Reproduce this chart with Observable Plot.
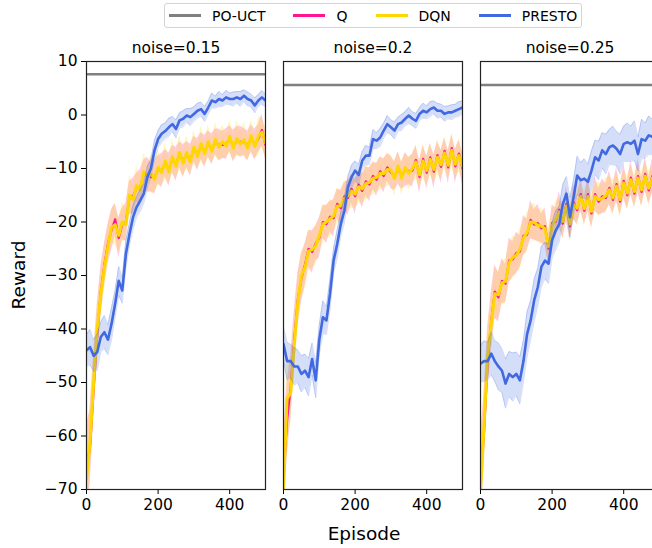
<!DOCTYPE html>
<html><head><meta charset="utf-8">
<script src="https://cdn.jsdelivr.net/npm/d3@7"></script>
<script src="https://cdn.jsdelivr.net/npm/@observablehq/plot@0.6"></script>
<style>
html,body{margin:0;padding:0;overflow:hidden;background:#fff;font-family:"DejaVu Sans",sans-serif;}
#wrap{position:relative;width:652px;height:548px;overflow:hidden;}
#legend{position:absolute;left:164px;top:3px;width:418px;height:25px;box-sizing:border-box;border:1px solid #d4d4d4;border-radius:3px;display:flex;align-items:center;gap:28px;padding-left:4px;font-size:14px;color:#000;}
#legend .item{display:flex;align-items:center;gap:11px;white-space:nowrap;}
#legend .sw{display:inline-block;width:32px;height:0;border-top:3px solid;}
#chart{position:absolute;left:0;top:31px;width:700px;}
#chart svg{max-width:none !important;width:700px !important;height:517px !important;}
.lab{position:absolute;font-size:18.5px;color:#000;white-space:nowrap;}
#ylab{left:18px;top:275px;transform:translate(-50%,-50%) rotate(-90deg);}
#xlab{left:364px;top:533px;transform:translate(-50%,-50%);}
</style></head>
<body>
<div id="wrap">
  <div id="legend"></div>
  <div id="chart"></div>
  <div class="lab" id="ylab">Reward</div>
  <div class="lab" id="xlab">Episode</div>
</div>
<script>
const noiseLevels = [0.15, 0.2, 0.25];
const seriesNames = ["PO-UCT", "Q", "DQN", "PRESTO"];
const seriesColors = ["#808080", "#ff1493", "#ffd700", "#4169e1"];
const poUct = [7.6, 5.6, 5.6];
const xTicks = [0, 200, 400];
const yTicks = [-70, -60, -50, -40, -30, -20, -10, 0, 10];
const episodes = [0,10,20,30,40,50,60,70,80,90,100,110,120,130,140,150,160,170,180,190,200,210,220,230,240,250,260,270,280,290,300,310,320,330,340,350,360,370,380,390,400,410,420,430,440,450,460,470,480,490,500];

// noise = 0.15
const q_015 = [-66,-62,-51,-41,-33,-28,-24,-21.5,-19.5,-23,-20.4,-20,-15.4,-15.2,-13.6,-13.6,-11,-11.2,-11.6,-11.6,-10.2,-10.4,-9,-10.2,-8.2,-9.2,-7.4,-8.6,-7.4,-8.4,-6.4,-7.4,-5.8,-6.8,-5.4,-6.4,-5,-5.6,-5.6,-5.4,-4.4,-5.8,-4.8,-5,-5,-5.8,-4.3,-5.5,-4.4,-2.8,-5.6];
const dqn_015 = [-68,-61,-50,-40,-33.5,-28.5,-24.5,-21,-20.5,-22.5,-20,-20.5,-15,-15.8,-13.2,-14,-10.6,-11.6,-11,-12,-9.8,-10.8,-8.6,-10.6,-7.8,-9.6,-7,-9,-7,-8.8,-6,-7.8,-5.4,-7.2,-5,-6.8,-4.6,-6,-5,-5.8,-4,-6.2,-4.4,-5.4,-4.6,-6.2,-3.9,-5.9,-4,-3.2,-5.2];
const presto_015 = [-44,-43.4,-45,-44.3,-41.5,-40.6,-42,-39,-35.3,-31,-32.8,-26,-22.3,-19.1,-17.2,-16,-14.7,-11.6,-10,-6.6,-4.5,-3.5,-3,-2.3,-1.7,-2.6,-1.0,-0.7,-0.1,-0.4,0.2,0.8,1.1,0.2,1.4,2.7,2.4,3.0,2.7,3.3,3.0,3.0,3.3,3.0,3.6,3.0,2.7,1.8,2.7,3.3,2.7];
const qSd_015 = [8,7,6,5.5,4.8,4,3.6,3.9,3.0,3.8,3.0,3.5,3.0,3.4,2.7,3.4,2.6,3.3,2.7,3.2,2.6,3.2,2.5,3.1,2.5,3.2,2.4,3.1,2.4,3.0,2.4,3.0,2.5,3.0,2.4,2.9,2.4,3.0,2.5,2.9,2.4,3.0,2.6,2.9,2.5,2.8,2.5,2.9,2.6,3.0,2.5];
const dqnSd_015 = [7,7,6,5,4.5,4,3.8,3.1,3.9,3.0,3.8,2.9,3.9,2.6,3.6,2.5,3.5,2.4,3.6,2.5,3.4,2.3,3.4,2.4,3.2,2.3,3.3,2.4,3.1,2.3,3.2,2.2,3.3,2.3,3.1,2.2,3.2,2.4,3.2,2.2,3.1,2.3,3.4,2.2,3.2,2.3,3.1,2.2,3.5,2.8,3.0];
const prestoSd_015 = [3,3.3,3,3.4,2.8,3.1,2.8,3.0,2.5,2.7,2.4,2.6,2.1,2.3,1.9,2.1,1.8,2.0,1.7,1.9,1.6,1.7,1.5,1.7,1.4,1.7,1.4,1.5,1.3,1.6,1.3,1.4,1.3,1.4,1.2,1.4,1.1,1.4,1.1,1.3,1.1,1.3,1.1,1.4,1.1,1.3,1.2,1.4,1.1,1.3,1.2];

// noise = 0.2
const q_02 = [-68,-57,-51,-42,-34.5,-30.5,-28,-25,-25.6,-24,-23,-20,-20.4,-19,-19.3,-16.6,-17.4,-15.2,-15.5,-13.8,-15.2,-13,-14.2,-12.4,-13,-11.4,-12.1,-10.5,-11.4,-9.8,-10.7,-11.5,-9.9,-11.4,-10.2,-10.5,-10.4,-8.4,-11.6,-8.2,-10.8,-7.9,-10.6,-7.5,-9.7,-6.7,-9.8,-6.2,-9.6,-7.2,-10];
const dqn_02 = [-70,-53,-52,-43,-35,-30,-28.5,-25.4,-25.2,-24.4,-22.6,-20.4,-20,-19.4,-18.9,-17,-17,-15.6,-15.1,-14.2,-14.8,-13.4,-13.8,-12.8,-12.6,-11.8,-11.7,-10.9,-11,-10.2,-10.3,-11.9,-9.5,-11.8,-9.8,-10.9,-10,-8.8,-11.2,-8.6,-10.4,-8.3,-10.2,-7.9,-9.3,-7.1,-9.4,-6.6,-9.2,-7.6,-9.6];
const presto_02 = [-42.8,-46,-46,-47,-47,-48.4,-47.8,-49,-45.6,-49.6,-42,-37.8,-38.4,-33.4,-27.2,-24.1,-20.4,-17.9,-13.5,-11.6,-10.4,-11.2,-8.5,-7.6,-7.6,-4.5,-4.8,-4.2,-2.9,-1.7,-2.3,-2.9,-1.7,-1.4,-0.7,-0.1,-0.7,-1.1,0.2,0.8,0.5,1.1,1.4,0.8,0.8,0.2,0.5,0.5,0.8,1.1,1.4];
const qSd_02 = [8,7,6,5.5,5,4.5,4,3.4,4.0,3.2,3.8,3.0,3.6,2.8,3.5,2.7,3.4,2.6,3.3,2.6,3.3,2.5,3.2,2.6,3.2,2.5,3.1,2.6,3.2,2.5,3.1,2.6,3.1,2.5,3.2,2.5,3.1,2.6,3.1,2.4,3.1,2.5,3.2,2.5,3.1,2.4,3.1,2.5,3.2,2.5,3.1];
const dqnSd_02 = [7,7,6,5,4.8,4.4,4,3.9,3.2,3.8,3.0,3.7,2.9,3.6,2.8,3.4,2.7,3.3,2.6,3.3,2.6,3.2,2.6,3.3,2.5,3.2,2.5,3.3,2.5,3.2,2.6,3.3,2.5,3.2,2.6,3.1,2.5,3.3,2.5,3.2,2.6,3.1,2.5,3.3,2.6,3.1,2.5,3.2,2.6,3.1,2.6];
const prestoSd_02 = [3.2,3.5,3.1,3.5,3.1,3.4,3.1,3.5,3.0,3.3,2.8,3.1,2.6,2.9,2.4,2.6,2.2,2.4,2.0,2.2,1.8,2.0,1.7,1.9,1.6,1.8,1.5,1.7,1.4,1.6,1.4,1.6,1.3,1.5,1.3,1.5,1.3,1.4,1.2,1.4,1.2,1.4,1.2,1.4,1.2,1.4,1.2,1.4,1.2,1.4,1.2];

// noise = 0.25
const q_025 = [-68,-59,-46,-38.5,-33,-34.1,-31,-31.5,-27.2,-27,-25.8,-25.5,-22.6,-22.4,-19.6,-20.5,-20.2,-21.2,-20.8,-25,-20.2,-20,-17.7,-20.3,-16.6,-20.8,-16.3,-17.8,-14.8,-17.9,-14.8,-18.4,-14.8,-16.2,-15.2,-15.5,-13.6,-15.9,-12.9,-16.2,-12.3,-15,-11.7,-14.7,-11.4,-14.4,-11,-14.1,-11.4,-13.9,-11.3];
const dqn_025 = [-70,-58,-45,-39,-33.4,-33.6,-31.4,-31.1,-27.6,-26.6,-26.2,-25.1,-23,-22,-20,-20.1,-20.6,-20.8,-21.2,-24.6,-20.6,-19.6,-18.1,-19.9,-17,-20.4,-16.7,-17.4,-15.2,-17.5,-15.2,-18,-15.2,-15.8,-15.6,-15.1,-14,-15.5,-13.3,-15.8,-12.7,-14.6,-12.1,-14.3,-11.8,-14,-11.4,-13.7,-11.8,-13.5,-11.7];
const presto_025 = [-46.5,-46,-46,-44.6,-46,-47,-47.8,-50.2,-48.4,-49,-48.4,-49.6,-46,-41,-38.4,-34.6,-32.2,-28.4,-27.2,-27.8,-23.4,-21.6,-20.4,-16.6,-14.7,-19.1,-15.4,-11.3,-12.2,-11.9,-12.5,-10.4,-7.9,-8.5,-6.6,-7.3,-6.0,-5.7,-6.3,-7.3,-5.4,-5.1,-5.4,-4.8,-7.3,-4.5,-4.8,-3.8,-4.1,-4.0,-4.2];
const qSd_025 = [8,7,6,5.5,5,4.6,4.2,3.6,4.2,3.3,3.9,3.0,3.8,2.9,3.6,2.8,3.5,2.7,3.5,2.8,3.4,2.6,3.4,2.7,3.3,2.6,3.3,2.6,3.2,2.5,3.3,2.6,3.2,2.5,3.3,2.6,3.2,2.5,3.2,2.5,3.3,2.5,3.2,2.5,3.2,2.6,3.2,2.5,3.2,2.5,3.2];
const dqnSd_025 = [7,7,6,5.2,4.8,4.4,4.1,4.2,3.5,4.0,3.2,3.9,3.1,3.7,2.9,3.6,2.8,3.5,2.8,3.4,2.7,3.4,2.6,3.4,2.6,3.3,2.6,3.3,2.5,3.3,2.6,3.3,2.5,3.2,2.6,3.3,2.5,3.2,2.6,3.3,2.5,3.2,2.6,3.2,2.5,3.3,2.6,3.2,2.5,3.2,2.6];
const prestoSd_025 = [3.4,3.8,3.5,4.0,3.8,4.4,4.1,4.6,4.2,4.5,4.1,4.4,3.9,4.2,3.7,4.0,3.5,3.8,3.4,3.7,3.3,3.7,3.3,3.6,3.2,3.7,3.3,3.6,3.3,3.7,3.3,3.7,3.2,3.6,3.3,3.7,3.3,3.6,3.2,3.7,3.3,3.6,3.3,3.7,3.2,3.7,3.3,3.6,3.3,3.7,3.3];

const seriesByNoise = [
  {Q: [q_015, qSd_015], DQN: [dqn_015, dqnSd_015], PRESTO: [presto_015, prestoSd_015]},
  {Q: [q_02, qSd_02], DQN: [dqn_02, dqnSd_02], PRESTO: [presto_02, prestoSd_02]},
  {Q: [q_025, qSd_025], DQN: [dqn_025, dqnSd_025], PRESTO: [presto_025, prestoSd_025]}
];

const rows = [];
noiseLevels.forEach((noise, i) => {
  for (const name of ["Q", "DQN", "PRESTO"]) {
    const [vals, sds] = seriesByNoise[i][name];
    episodes.forEach((ep, k) => rows.push({noise, series: name, ep, y: vals[k], lo: vals[k] - sds[k], hi: vals[k] + sds[k]}));
  }
});
const poRows = noiseLevels.map((noise, i) => ({noise, value: poUct[i]}));
const col = Object.fromEntries(seriesNames.map((n, i) => [n, seriesColors[i]]));
const of = (name) => rows.filter(d => d.series === name);

const minus = d => d < 0 ? "\u2212" + (-d) : String(d);

const chart = Plot.plot({
  width: 700,
  height: 517,
  marginTop: 30,
  marginBottom: 59,
  marginLeft: 86,
  marginRight: 41,
  style: {fontFamily: "DejaVu Sans", fontSize: "15.5px", color: "#000", background: "transparent", maxWidth: "none"},
  x: {domain: [0, 500], ticks: xTicks, label: null, tickSize: 5, tickPadding: 4},
  y: {domain: [-70, 10], ticks: yTicks, tickFormat: minus, label: null, tickSize: 5, tickPadding: 4},
  fx: {domain: noiseLevels, padding: 0.0914, round: false, axis: "top", tickFormat: d => `noise=${d}`, label: null, tickSize: 0, tickPadding: 9},
  marks: [
    Plot.ruleY(poRows, {fx: "noise", y: "value", stroke: col["PO-UCT"], strokeWidth: 2.5}),
    Plot.areaY(of("Q"), {fx: "noise", x: "ep", y1: "lo", y2: "hi", fill: col.Q, fillOpacity: 0.22, clip: true}),
    Plot.areaY(of("DQN"), {fx: "noise", x: "ep", y1: "lo", y2: "hi", fill: col.DQN, fillOpacity: 0.25, clip: true}),
    Plot.lineY(of("Q"), {fx: "noise", x: "ep", y: "y", stroke: col.Q, strokeWidth: 2.2, clip: true}),
    Plot.lineY(of("DQN"), {fx: "noise", x: "ep", y: "y", stroke: col.DQN, strokeWidth: 3, clip: true}),
    Plot.areaY(of("PRESTO"), {fx: "noise", x: "ep", y1: "lo", y2: "hi", fill: col.PRESTO, fillOpacity: 0.22, clip: true}),
    Plot.lineY(of("PRESTO"), {fx: "noise", x: "ep", y: "lo", stroke: col.PRESTO, strokeOpacity: 0.22, strokeWidth: 1, clip: true}),
    Plot.lineY(of("PRESTO"), {fx: "noise", x: "ep", y: "hi", stroke: col.PRESTO, strokeOpacity: 0.22, strokeWidth: 1, clip: true}),
    Plot.lineY(of("PRESTO"), {fx: "noise", x: "ep", y: "y", stroke: col.PRESTO, strokeWidth: 2.6, clip: true}),
    Plot.frame({stroke: "#222", strokeWidth: 1.2})
  ]
});
document.getElementById("chart").appendChild(chart);

const legend = document.getElementById("legend");
seriesNames.forEach((n, i) => {
  const it = document.createElement("div");
  it.className = "item";
  const sw = document.createElement("span");
  sw.className = "sw";
  sw.style.borderTopColor = seriesColors[i];
  const tx = document.createElement("span");
  tx.textContent = n;
  it.appendChild(sw); it.appendChild(tx);
  legend.appendChild(it);
});
</script>
</body></html>
